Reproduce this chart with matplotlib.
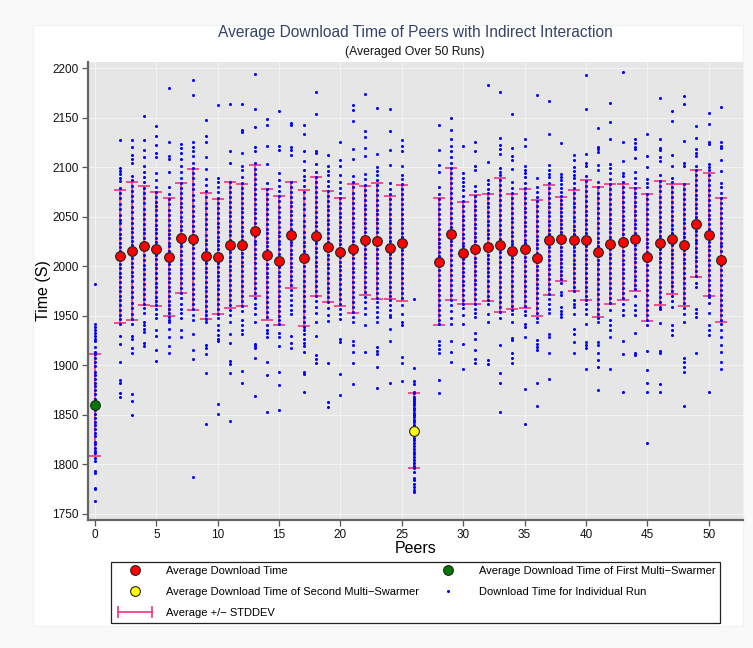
import matplotlib
matplotlib.use("Agg")
import matplotlib.pyplot as plt
from matplotlib.lines import Line2D
from matplotlib.patches import Rectangle
from matplotlib.legend_handler import HandlerLine2D

plt.rcParams['font.family'] = ['Liberation Sans', 'DejaVu Sans']

# peers that took part (peer 1 and 27 have no record)
peers = [0] + list(range(2, 27)) + list(range(28, 52))

# mean download time per peer (s)
mean_time = [1860.0,
             2010.0, 2015.4, 2020.8, 2017.4, 2009.7, 2028.5, 2027.2, 2010.7, 2009.7, 2021.5,
             2021.8, 2036.0, 2011.7, 2005.6, 2031.3, 2008.4, 2030.3, 2019.8, 2014.4, 2017.8,
             2026.2, 2025.8, 2018.8, 2023.8, 1833.9,
             2004.6, 2032.6, 2013.4, 2017.0, 2019.1, 2021.2, 2015.0, 2017.7, 2008.6, 2026.5,
             2027.5, 2026.2, 2026.5, 2014.7, 2022.5, 2024.5, 2027.2, 2009.0, 2023.5, 2027.5,
             2021.8, 2043.0, 2031.9, 2006.3]

# standard deviation per peer (s)
std_time = [51.5,
            67.0, 69.4, 60.0, 57.8, 59.7, 55.4, 71.3, 63.7, 57.9, 64.0,
            61.5, 66.3, 66.0, 65.2, 53.6, 68.4, 60.1, 56.4, 54.8, 65.5,
            55.2, 58.8, 51.7, 58.8, 37.6,
            64.0, 66.2, 51.5, 55.0, 54.0, 67.5, 58.0, 60.0, 58.4, 56.0,
            42.5, 51.0, 60.3, 65.7, 61.0, 58.7, 51.7, 64.4, 63.1, 55.3,
            61.8, 54.0, 62.2, 62.5]

# download time of each individual run
run_00 = [1982, 1942, 1939, 1936, 1933, 1930, 1927, 1924, 1918, 1913, 1911, 1907, 1903, 1899, 1893, 1890, 1886, 1882, 1879, 1875, 1871, 1866, 1863, 1858, 1855, 1851, 1847, 1843, 1840, 1836, 1832, 1828, 1822, 1820, 1816, 1813, 1811, 1806, 1803, 1793, 1791, 1776, 1775, 1763]
run_02 = [2128, 2099, 2096, 2093, 2089, 2086, 2079, 2074, 2069, 2063, 2058, 2052, 2047, 2044, 2038, 2033, 2029, 2024, 2019, 2015, 2011, 2006, 2002, 1998, 1993, 1989, 1984, 1979, 1975, 1970, 1966, 1961, 1956, 1951, 1947, 1942, 1930, 1921, 1903, 1885, 1882, 1872, 1868]
run_03 = [2128, 2121, 2112, 2108, 2104, 2091, 2087, 2081, 2076, 2071, 2066, 2060, 2055, 2049, 2044, 2039, 2035, 2030, 2026, 2021, 2017, 2012, 2008, 2003, 1999, 1994, 1990, 1985, 1979, 1974, 1969, 1963, 1958, 1952, 1947, 1942, 1930, 1927, 1917, 1912, 1871, 1864, 1850]
run_04 = [2152, 2128, 2117, 2110, 2101, 2095, 2090, 2085, 2079, 2074, 2069, 2064, 2058, 2053, 2048, 2043, 2038, 2034, 2029, 2025, 2020, 2016, 2011, 2006, 2001, 1997, 1992, 1987, 1982, 1977, 1972, 1967, 1962, 1958, 1953, 1944, 1941, 1937, 1934, 1922, 1919]
run_05 = [2142, 2132, 2123, 2114, 2110, 2094, 2087, 2080, 2075, 2070, 2065, 2061, 2057, 2052, 2047, 2042, 2038, 2034, 2029, 2025, 2020, 2016, 2011, 2007, 2002, 1998, 1993, 1988, 1983, 1979, 1974, 1969, 1965, 1961, 1957, 1952, 1948, 1936, 1930, 1915, 1904]
run_06 = [2180, 2126, 2111, 2108, 2095, 2080, 2073, 2068, 2063, 2057, 2052, 2047, 2042, 2037, 2033, 2029, 2024, 2020, 2015, 2011, 2006, 2002, 1997, 1993, 1988, 1984, 1979, 1975, 1970, 1965, 1961, 1957, 1953, 1949, 1946, 1944, 1937, 1929, 1919, 1912]
run_07 = [2124, 2119, 2114, 2108, 2101, 2095, 2089, 2084, 2079, 2074, 2069, 2064, 2060, 2055, 2050, 2046, 2041, 2037, 2033, 2028, 2024, 2020, 2015, 2011, 2006, 2002, 1997, 1993, 1988, 1983, 1978, 1973, 1968, 1962, 1957, 1953, 1948, 1936, 1929]
run_08 = [2188, 2173, 2126, 2121, 2116, 2111, 2104, 2099, 2094, 2089, 2083, 2078, 2072, 2067, 2061, 2056, 2051, 2046, 2041, 2036, 2032, 2027, 2022, 2018, 2013, 2008, 2003, 1998, 1993, 1988, 1982, 1977, 1972, 1967, 1962, 1957, 1951, 1946, 1932, 1915, 1906, 1787]
run_09 = [2148, 2132, 2126, 2110, 2098, 2088, 2082, 2076, 2070, 2064, 2059, 2053, 2048, 2043, 2038, 2032, 2027, 2022, 2017, 2012, 2008, 2003, 1998, 1994, 1989, 1984, 1979, 1975, 1970, 1965, 1960, 1955, 1951, 1947, 1944, 1920, 1917, 1911, 1892, 1841]
run_10 = [2163, 2089, 2085, 2080, 2075, 2069, 2064, 2059, 2054, 2049, 2044, 2040, 2035, 2030, 2026, 2021, 2017, 2012, 2008, 2003, 1999, 1994, 1990, 1986, 1981, 1977, 1972, 1967, 1962, 1957, 1952, 1948, 1941, 1936, 1931, 1927, 1924, 1861, 1851]
run_11 = [2164, 2116, 2104, 2085, 2080, 2075, 2070, 2065, 2060, 2055, 2051, 2046, 2041, 2036, 2032, 2027, 2023, 2018, 2014, 2009, 2005, 2000, 1996, 1991, 1986, 1981, 1976, 1971, 1966, 1961, 1956, 1951, 1944, 1932, 1922, 1904, 1901, 1892, 1844]
run_12 = [2164, 2138, 2136, 2114, 2101, 2097, 2090, 2084, 2079, 2074, 2069, 2064, 2059, 2055, 2050, 2045, 2040, 2036, 2031, 2027, 2022, 2018, 2013, 2009, 2004, 2000, 1995, 1990, 1985, 1980, 1975, 1970, 1965, 1960, 1955, 1946, 1941, 1936, 1932, 1894, 1882]
run_13 = [2194, 2159, 2141, 2121, 2116, 2104, 2098, 2093, 2088, 2083, 2078, 2073, 2068, 2063, 2058, 2054, 2049, 2044, 2040, 2035, 2031, 2026, 2022, 2017, 2012, 2008, 2003, 1998, 1993, 1988, 1983, 1978, 1973, 1968, 1962, 1958, 1952, 1944, 1921, 1919, 1917, 1907, 1869]
run_14 = [2149, 2143, 2122, 2103, 2084, 2078, 2073, 2068, 2063, 2058, 2053, 2048, 2043, 2038, 2034, 2029, 2025, 2020, 2016, 2011, 2007, 2002, 1998, 1993, 1989, 1984, 1979, 1974, 1969, 1964, 1959, 1954, 1949, 1941, 1936, 1933, 1929, 1903, 1890, 1853]
run_15 = [2157, 2122, 2117, 2094, 2087, 2081, 2076, 2071, 2066, 2060, 2055, 2050, 2045, 2040, 2035, 2031, 2026, 2022, 2017, 2012, 2008, 2003, 1999, 1994, 1990, 1985, 1980, 1975, 1970, 1965, 1960, 1955, 1950, 1946, 1942, 1933, 1929, 1919, 1893, 1880, 1855]
run_16 = [2145, 2143, 2121, 2117, 2112, 2085, 2080, 2075, 2070, 2065, 2061, 2056, 2052, 2047, 2043, 2038, 2034, 2029, 2025, 2021, 2016, 2012, 2008, 2003, 1999, 1995, 1990, 1986, 1981, 1976, 1971, 1966, 1961, 1956, 1952, 1930, 1922, 1917]
run_17 = [2143, 2134, 2116, 2106, 2097, 2091, 2087, 2081, 2075, 2069, 2063, 2058, 2052, 2046, 2041, 2035, 2030, 2025, 2020, 2015, 2010, 2005, 2000, 1995, 1990, 1985, 1980, 1975, 1970, 1965, 1960, 1955, 1949, 1944, 1939, 1936, 1932, 1927, 1922, 1919, 1913, 1893, 1891, 1873]
run_18 = [2176, 2154, 2116, 2114, 2103, 2095, 2090, 2085, 2080, 2075, 2070, 2065, 2060, 2055, 2050, 2045, 2041, 2036, 2032, 2027, 2023, 2018, 2014, 2009, 2004, 2000, 1995, 1990, 1985, 1980, 1975, 1970, 1965, 1959, 1953, 1944, 1930, 1910, 1906, 1902]
run_19 = [2112, 2101, 2096, 2092, 2086, 2081, 2076, 2071, 2066, 2061, 2057, 2052, 2047, 2043, 2038, 2034, 2029, 2025, 2020, 2016, 2011, 2007, 2002, 1998, 1993, 1988, 1983, 1978, 1974, 1969, 1964, 1958, 1951, 1945, 1902, 1863, 1858]
run_20 = [2126, 2107, 2101, 2092, 2085, 2079, 2074, 2069, 2064, 2059, 2054, 2050, 2045, 2040, 2036, 2031, 2027, 2022, 2018, 2013, 2009, 2004, 2000, 1996, 1991, 1987, 1982, 1977, 1972, 1967, 1962, 1957, 1952, 1947, 1927, 1923, 1891, 1870]
run_21 = [2163, 2158, 2147, 2118, 2108, 2091, 2085, 2080, 2074, 2069, 2064, 2059, 2054, 2049, 2044, 2040, 2035, 2030, 2026, 2021, 2017, 2012, 2008, 2003, 1998, 1994, 1989, 1984, 1979, 1974, 1969, 1964, 1959, 1954, 1949, 1944, 1924, 1920, 1913, 1902, 1881]
run_22 = [2174, 2137, 2131, 2120, 2111, 2093, 2088, 2082, 2077, 2072, 2067, 2062, 2058, 2053, 2048, 2044, 2039, 2035, 2030, 2026, 2021, 2017, 2012, 2008, 2003, 1999, 1994, 1989, 1984, 1979, 1974, 1969, 1964, 1958, 1952, 1941, 1913]
run_23 = [2160, 2113, 2100, 2096, 2092, 2087, 2082, 2077, 2072, 2067, 2062, 2057, 2053, 2048, 2044, 2039, 2035, 2030, 2026, 2021, 2017, 2012, 2008, 2003, 1998, 1993, 1988, 1983, 1978, 1973, 1968, 1964, 1959, 1954, 1949, 1944, 1918, 1914, 1911, 1898, 1877]
run_24 = [2159, 2137, 2117, 2102, 2084, 2078, 2073, 2068, 2063, 2058, 2053, 2048, 2044, 2039, 2035, 2030, 2026, 2021, 2017, 2012, 2008, 2003, 1999, 1994, 1989, 1984, 1979, 1974, 1970, 1966, 1961, 1956, 1951, 1949, 1937, 1924, 1882]
run_25 = [2128, 2122, 2116, 2101, 2092, 2088, 2083, 2078, 2073, 2068, 2063, 2058, 2053, 2048, 2044, 2039, 2034, 2030, 2025, 2021, 2016, 2012, 2007, 2003, 1998, 1993, 1988, 1983, 1978, 1973, 1968, 1961, 1952, 1944, 1941, 1908, 1902, 1884]
run_26 = [1967, 1897, 1884, 1881, 1873, 1872, 1868, 1866, 1864, 1862, 1860, 1857, 1855, 1852, 1850, 1848, 1845, 1843, 1840, 1838, 1836, 1834, 1831, 1829, 1826, 1824, 1821, 1818, 1815, 1812, 1810, 1807, 1804, 1801, 1798, 1796, 1792, 1786, 1784, 1780, 1777, 1774, 1772]
run_28 = [2143, 2117, 2102, 2095, 2080, 2073, 2068, 2063, 2058, 2053, 2048, 2043, 2038, 2033, 2028, 2024, 2019, 2014, 2010, 2005, 2000, 1996, 1991, 1986, 1981, 1976, 1971, 1966, 1961, 1956, 1951, 1946, 1942, 1924, 1920, 1916, 1912, 1885, 1872]
run_29 = [2150, 2138, 2129, 2122, 2116, 2110, 2104, 2099, 2094, 2089, 2084, 2079, 2074, 2069, 2064, 2059, 2054, 2049, 2044, 2040, 2035, 2030, 2026, 2021, 2016, 2011, 2006, 2001, 1996, 1991, 1986, 1981, 1976, 1971, 1966, 1961, 1955, 1948, 1942, 1924, 1913, 1903]
run_30 = [2122, 2094, 2089, 2085, 2081, 2077, 2071, 2066, 2061, 2056, 2051, 2047, 2042, 2038, 2033, 2029, 2024, 2020, 2016, 2011, 2007, 2003, 1998, 1994, 1990, 1985, 1981, 1976, 1971, 1966, 1962, 1958, 1951, 1942, 1921, 1896]
run_31 = [2126, 2116, 2101, 2097, 2081, 2076, 2071, 2066, 2061, 2057, 2052, 2048, 2043, 2039, 2034, 2030, 2026, 2021, 2017, 2013, 2008, 2004, 2000, 1995, 1991, 1986, 1982, 1977, 1972, 1967, 1962, 1957, 1953, 1949, 1933, 1927, 1915, 1906, 1902]
run_32 = [2183, 2105, 2087, 2083, 2078, 2074, 2069, 2064, 2060, 2055, 2051, 2046, 2042, 2037, 2033, 2029, 2024, 2020, 2016, 2011, 2007, 2003, 1998, 1994, 1990, 1985, 1980, 1975, 1970, 1966, 1962, 1952, 1944, 1905, 1901]
run_33 = [2176, 2130, 2123, 2118, 2113, 2099, 2095, 2092, 2087, 2082, 2077, 2072, 2067, 2062, 2057, 2052, 2047, 2042, 2037, 2033, 2028, 2023, 2018, 2014, 2009, 2004, 1999, 1994, 1989, 1984, 1979, 1974, 1969, 1964, 1959, 1954, 1948, 1920, 1892, 1882, 1853]
run_34 = [2154, 2119, 2111, 2107, 2098, 2085, 2079, 2074, 2069, 2064, 2059, 2054, 2049, 2045, 2040, 2035, 2031, 2026, 2022, 2017, 2013, 2008, 2004, 1999, 1995, 1990, 1985, 1980, 1975, 1970, 1965, 1960, 1956, 1952, 1944, 1928, 1925, 1912, 1907, 1902]
run_35 = [2129, 2122, 2101, 2097, 2094, 2090, 2084, 2079, 2074, 2069, 2064, 2059, 2055, 2050, 2045, 2041, 2036, 2032, 2027, 2023, 2018, 2014, 2009, 2005, 2000, 1995, 1990, 1985, 1980, 1975, 1970, 1965, 1960, 1955, 1951, 1942, 1939, 1929, 1876, 1841]
run_36 = [2173, 2089, 2080, 2075, 2070, 2066, 2061, 2056, 2051, 2046, 2041, 2036, 2031, 2027, 2022, 2018, 2013, 2009, 2004, 2000, 1996, 1991, 1987, 1982, 1978, 1973, 1968, 1963, 1958, 1953, 1948, 1944, 1925, 1921, 1918, 1915, 1882, 1859]
run_37 = [2167, 2134, 2102, 2097, 2093, 2090, 2084, 2079, 2074, 2069, 2064, 2060, 2055, 2051, 2046, 2042, 2037, 2033, 2028, 2024, 2019, 2015, 2010, 2006, 2001, 1997, 1992, 1987, 1982, 1977, 1972, 1967, 1962, 1957, 1953, 1932, 1929, 1912, 1886]
run_38 = [2125, 2093, 2090, 2087, 2083, 2079, 2075, 2071, 2067, 2063, 2059, 2055, 2051, 2047, 2043, 2039, 2035, 2031, 2027, 2023, 2019, 2015, 2011, 2007, 2003, 1999, 1995, 1991, 1987, 1983, 1974, 1971, 1959, 1955, 1952, 1949]
run_39 = [2112, 2107, 2100, 2096, 2092, 2089, 2084, 2079, 2074, 2069, 2064, 2060, 2055, 2050, 2046, 2041, 2037, 2033, 2028, 2024, 2019, 2015, 2011, 2006, 2002, 1998, 1993, 1988, 1984, 1979, 1975, 1966, 1962, 1959, 1952, 1937, 1932, 1923, 1912]
run_40 = [2193, 2159, 2113, 2104, 2101, 2091, 2086, 2081, 2076, 2071, 2066, 2061, 2056, 2052, 2047, 2043, 2038, 2034, 2029, 2025, 2020, 2016, 2011, 2007, 2002, 1998, 1993, 1988, 1984, 1979, 1975, 1970, 1966, 1962, 1957, 1952, 1942, 1923, 1920, 1917, 1896]
run_41 = [2140, 2121, 2118, 2115, 2102, 2097, 2085, 2080, 2074, 2069, 2064, 2059, 2054, 2049, 2044, 2039, 2034, 2029, 2025, 2020, 2015, 2011, 2006, 2002, 1997, 1992, 1987, 1982, 1977, 1972, 1967, 1962, 1957, 1952, 1948, 1944, 1923, 1920, 1912, 1905, 1898, 1875]
run_42 = [2165, 2146, 2129, 2103, 2099, 2094, 2088, 2083, 2078, 2073, 2068, 2063, 2058, 2053, 2048, 2044, 2039, 2035, 2030, 2026, 2021, 2017, 2012, 2008, 2003, 1998, 1993, 1988, 1983, 1978, 1973, 1968, 1963, 1956, 1946, 1941, 1936, 1929, 1896]
run_43 = [2196, 2126, 2106, 2094, 2091, 2085, 2080, 2075, 2070, 2065, 2060, 2056, 2051, 2047, 2042, 2038, 2033, 2029, 2024, 2020, 2015, 2011, 2006, 2002, 1997, 1993, 1988, 1983, 1978, 1973, 1968, 1962, 1956, 1951, 1924, 1911, 1873]
run_44 = [2129, 2125, 2121, 2118, 2109, 2095, 2089, 2084, 2079, 2074, 2070, 2065, 2061, 2056, 2052, 2047, 2043, 2039, 2034, 2030, 2026, 2021, 2017, 2012, 2008, 2004, 1999, 1995, 1990, 1986, 1981, 1977, 1970, 1961, 1956, 1951, 1933, 1912, 1910]
run_45 = [2134, 2111, 2100, 2088, 2084, 2080, 2073, 2068, 2063, 2058, 2053, 2048, 2043, 2038, 2033, 2028, 2024, 2019, 2014, 2010, 2005, 2001, 1996, 1991, 1986, 1981, 1976, 1971, 1966, 1961, 1956, 1951, 1946, 1941, 1914, 1895, 1882, 1873, 1821]
run_46 = [2170, 2129, 2120, 2117, 2110, 2106, 2092, 2086, 2081, 2076, 2070, 2065, 2060, 2055, 2050, 2045, 2040, 2036, 2031, 2026, 2022, 2017, 2013, 2008, 2004, 1999, 1994, 1989, 1984, 1979, 1974, 1969, 1964, 1959, 1957, 1943, 1914, 1912, 1881, 1873]
run_47 = [2157, 2147, 2112, 2101, 2089, 2085, 2080, 2075, 2070, 2065, 2060, 2056, 2051, 2047, 2042, 2038, 2034, 2029, 2025, 2021, 2016, 2012, 2008, 2003, 1999, 1994, 1989, 1984, 1980, 1975, 1970, 1965, 1959, 1941, 1936, 1931]
run_48 = [2172, 2164, 2127, 2104, 2101, 2083, 2078, 2073, 2068, 2063, 2058, 2053, 2048, 2044, 2039, 2034, 2030, 2025, 2021, 2016, 2012, 2007, 2003, 1998, 1993, 1988, 1983, 1978, 1973, 1968, 1963, 1958, 1952, 1944, 1907, 1903, 1898, 1893, 1859]
run_49 = [2142, 2130, 2118, 2114, 2111, 2101, 2097, 2092, 2087, 2082, 2077, 2072, 2068, 2063, 2059, 2054, 2050, 2045, 2041, 2036, 2032, 2027, 2023, 2018, 2014, 2009, 2005, 2000, 1995, 1990, 1983, 1979, 1957, 1953, 1949, 1912]
run_50 = [2155, 2144, 2126, 2124, 2103, 2100, 2097, 2092, 2087, 2082, 2077, 2072, 2067, 2062, 2057, 2052, 2048, 2043, 2038, 2034, 2029, 2025, 2020, 2016, 2011, 2006, 2001, 1996, 1991, 1986, 1981, 1976, 1971, 1969, 1963, 1953, 1941, 1936, 1931, 1873]
run_51 = [2161, 2126, 2122, 2119, 2107, 2096, 2084, 2080, 2074, 2069, 2064, 2059, 2054, 2049, 2044, 2039, 2034, 2029, 2024, 2020, 2015, 2010, 2006, 2001, 1996, 1991, 1986, 1981, 1976, 1971, 1966, 1961, 1956, 1951, 1946, 1942, 1936, 1929, 1920, 1913, 1903, 1896]

individual_runs = [run_00, run_02, run_03, run_04, run_05, run_06, run_07, run_08, run_09,
                   run_10, run_11, run_12, run_13, run_14, run_15, run_16, run_17, run_18,
                   run_19, run_20, run_21, run_22, run_23, run_24, run_25, run_26, run_28,
                   run_29, run_30, run_31, run_32, run_33, run_34, run_35, run_36, run_37,
                   run_38, run_39, run_40, run_41, run_42, run_43, run_44, run_45, run_46,
                   run_47, run_48, run_49, run_50, run_51]

first_swarmer = 0
second_swarmer = 26

PINK = '#f5307f'

fig = plt.figure(figsize=(7.53, 6.48), dpi=100, facecolor='#f9f9f9')
# white panel behind the chart
fig.patches.append(Rectangle((33 / 753, 1 - 626 / 648), 710 / 753, 601 / 648,
                             transform=fig.transFigure, facecolor='white',
                             edgecolor='#eef2f2', lw=0.8, zorder=-10))

ax = fig.add_axes([87.7 / 753, 1 - 520.3 / 648, (743 - 87.7) / 753, (520.3 - 61.7) / 648])
ax.set_facecolor('#e6e6e6')

# spread of the individual runs
xs, ys = [], []
for p, runs in zip(peers, individual_runs):
    xs.extend([p] * len(runs))
    ys.extend(runs)
ax.plot(xs, ys, 'o', color='#0000ff', markersize=2.2, markeredgewidth=0, zorder=3)

ax.errorbar(peers, mean_time, yerr=std_time, fmt='none', ecolor=PINK,
            elinewidth=1.2, capsize=4.6, capthick=1.2, zorder=2)

# mean markers, the two multi-swarmers get their own colour
red_x = [p for p in peers if p not in (first_swarmer, second_swarmer)]
red_y = [m for p, m in zip(peers, mean_time) if p not in (first_swarmer, second_swarmer)]
mk = dict(marker='o', linestyle='none', markersize=7, markeredgecolor='#222222',
          markeredgewidth=0.8, zorder=5)
ax.plot(red_x, red_y, markerfacecolor='#ff0000', **mk)
ax.plot([first_swarmer], [mean_time[peers.index(first_swarmer)]], markerfacecolor='#007a00', **mk)
ax.plot([second_swarmer], [mean_time[peers.index(second_swarmer)]], markerfacecolor='#ffff00', **mk)

ax.set_xlim(-0.6, 52.8)
ax.set_ylim(1743.3, 2206.7)
ax.set_xticks(range(0, 51, 5))
ax.set_yticks(range(1750, 2201, 50))
ax.grid(True, color='#f0f4f4', linewidth=0.8, zorder=0)
ax.set_axisbelow(True)
for s in ('top', 'right'):
    ax.spines[s].set_visible(False)
for s in ('left', 'bottom'):
    ax.spines[s].set_color('#666666')
    ax.spines[s].set_linewidth(1.6)
ax.tick_params(direction='out', length=4.5, width=0.9, color='#555555',
               labelsize=8.5, labelcolor='#111111', pad=2)

ax.set_ylabel('Time (S)', fontsize=11.5, labelpad=1)
ax.set_xlabel('Peers', fontsize=11.5, labelpad=0)

fig.text(415 / 753, 1 - 33 / 648, 'Average Download Time of Peers with Indirect Interaction',
         ha='center', va='center', fontsize=11.2, color='#34436a')
fig.text(415 / 753, 1 - 52 / 648, '(Averaged Over 50 Runs)',
         ha='center', va='center', fontsize=8.8, color='#111111')

h_avg = Line2D([], [], linestyle='none', marker='o', markersize=7, markerfacecolor='#ff0000',
               markeredgecolor='#222222', markeredgewidth=0.8)
h_second = Line2D([], [], linestyle='none', marker='o', markersize=7, markerfacecolor='#ffff00',
                  markeredgecolor='#222222', markeredgewidth=0.8)
h_first = Line2D([], [], linestyle='none', marker='o', markersize=7, markerfacecolor='#007a00',
                 markeredgecolor='#222222', markeredgewidth=0.8)
h_run = Line2D([], [], linestyle='none', marker='o', markersize=2.2, color='#0000ff',
               markeredgewidth=0)
h_sd = Line2D([], [], color=PINK, linewidth=1.2, marker='|', markersize=9, markeredgewidth=1.2)

leg = fig.legend([h_avg, h_second, h_sd, h_first, h_run],
                 ['Average Download Time',
                  'Average Download Time of Second Multi\u2212Swarmer',
                  'Average +/\u2212 STDDEV',
                  'Average Download Time of First Multi\u2212Swarmer',
                  'Download Time for Individual Run'],
                 ncol=2, mode='expand', loc='center',
                 bbox_to_anchor=(105 / 753, 1 - 622.7 / 648, 620.7 / 753, 61 / 648),
                 fontsize=8, frameon=True, fancybox=False, framealpha=1,
                 edgecolor='#222222', handlelength=3.6, handletextpad=1.0,
                 labelspacing=1.0, borderpad=0.4,
                 handler_map={h_sd: HandlerLine2D(numpoints=2)})
leg.get_frame().set_linewidth(0.9)

fig.savefig('out.png', dpi=100, facecolor=fig.get_facecolor())
